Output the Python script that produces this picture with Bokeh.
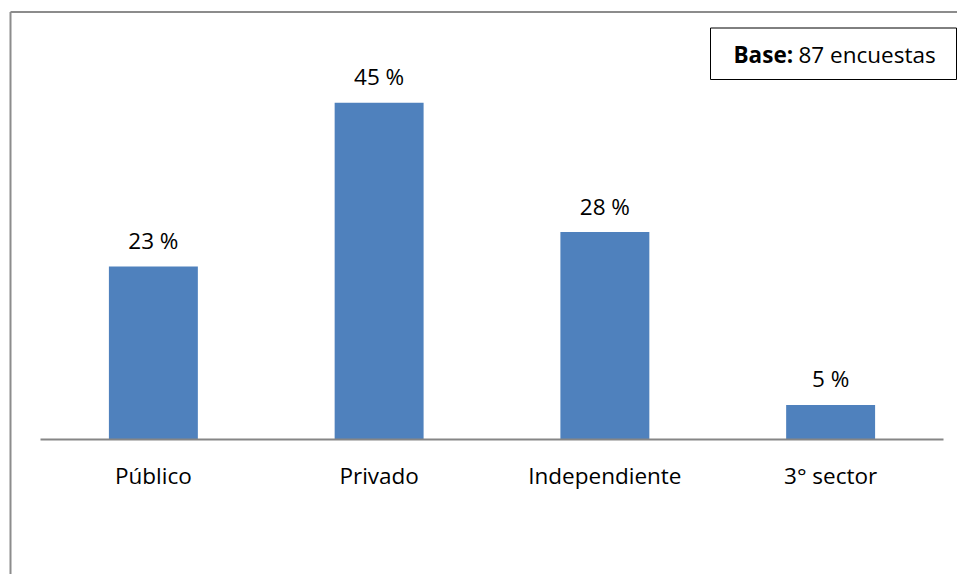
from bokeh.plotting import figure
from bokeh.models import Range1d, ColumnDataSource
from bokeh.core.properties import value
from bokeh.embed import file_html
from bokeh.resources import INLINE
import numpy as np

categories = ["Público", "Privado", "Independiente", "3° sector"]
percentages = [23.0, 44.8, 27.6, 4.6]
value_labels = ["23 %", "45 %", "28 %", "5 %"]
base_label = "Base:"
base_text = "87 encuestas"

W, H = 957, 574
# layout: frame = whole figure; px helpers used only for annotation placement
AX_LEFT, CAT_W, BASE_Y, PX_PER_UNIT = 40.0, 225.75, 439.0, 7.517


def X(px):
    return (px - AX_LEFT) / CAT_W


def Y(py):
    return (BASE_Y - py) / PX_PER_UNIT


FONT = value("Open Sans")
FS = "22.5px"

p = figure(width=W, height=H, output_backend="svg", toolbar_location=None,
           x_range=Range1d(X(0), X(W)), y_range=Range1d(Y(H), Y(0)),
           min_border=0, outline_line_color=None, background_fill_color="white",
           border_fill_color="white")
p.axis.visible = False
p.grid.visible = False

idx = np.arange(len(categories)) + 0.5
src = ColumnDataSource(dict(x=idx, top=percentages, lab=value_labels, cat=categories))

p.vbar(x="x", top="top", bottom=0, width=0.394, source=src,
       fill_color="#4F81BD", line_color="#4F81BD", line_width=0)

# baseline (category axis)
p.segment(x0=0, x1=len(categories), y0=0, y1=0, line_color="#868686", line_width=2)

# value labels
p.text(x="x", y="top", text="lab", source=src, text_align="center",
       text_baseline="middle", y_offset=-26, text_font=FONT, text_font_size=FS,
       text_color="black")

# category labels
p.text(x="x", y=0, text="cat", source=src, text_align="center",
       text_baseline="middle", y_offset=36, text_font=FONT, text_font_size=FS,
       text_color="black")

# outer border (left + top)
p.segment(x0=[X(10), X(10)], y0=[Y(11.5), Y(11.5)], x1=[X(10), X(W + 5)],
          y1=[Y(H + 5), Y(11.5)], line_color="#8c8c8c", line_width=2)

# base box
p.quad(left=X(710), right=X(956), top=Y(27.5), bottom=Y(79), 
       fill_color="white", line_color="black", line_width=1)
p.text(x=X(733), y=Y(53.5), text=[base_label], text_align="left",
       text_baseline="middle", text_font=FONT, text_font_size=FS,
       text_font_style="bold", text_color="black")
p.text(x=X(798), y=Y(53.5), text=[base_text], text_align="left",
       text_baseline="middle", text_font=FONT, text_font_size=FS,
       text_color="black")

open("out.html", "w").write(file_html(p, INLINE))
